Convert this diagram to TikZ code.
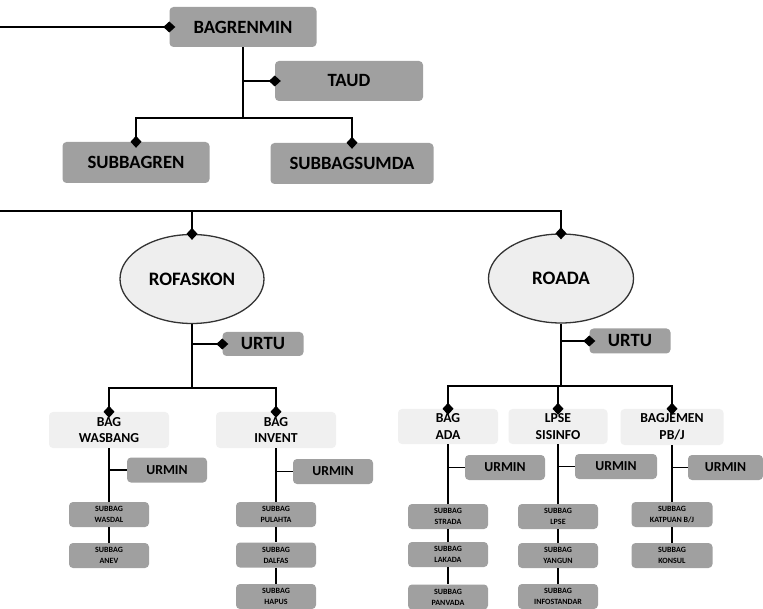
\documentclass[tikz,border=0pt]{standalone}
\usepackage{fontspec}
\setmainfont{Carlito}
\usetikzlibrary{arrows.meta,shapes.geometric}
\definecolor{dkgray}{HTML}{A0A0A0}
\definecolor{ltgray}{HTML}{F0F0F0}
\definecolor{ellfill}{HTML}{EEEEEE}
\begin{document}
\begin{tikzpicture}[x=1pt,y=-1pt,
 dkbox/.style={fill=dkgray, rounded corners=4pt, inner sep=0pt, align=center},
 ltbox/.style={fill=ltgray, rounded corners=4pt, inner sep=0pt, align=center},
 big/.style={font=\fontsize{18.7}{22}\selectfont\bfseries},
 ebig/.style={font=\fontsize{19}{22}\selectfont\bfseries},
 mid/.style={font=\fontsize{13.7}{16.5}\selectfont\bfseries},
 small/.style={font=\fontsize{8}{11}\selectfont\bfseries},
 ell/.style={ellipse, draw=black!80, line width=1.3pt, fill=ellfill, inner sep=0pt},
 conn/.style={line width=1.8pt},
 dmd/.style={conn, -{Diamond[length=12pt,width=11pt]}, shorten >=-6pt}]
\fill[white] (0,0) rectangle (763,609);
\useasboundingbox (0,0) rectangle (763,609);

% top group
\node[dkbox,big,minimum width=147pt,minimum height=40pt] (bag) at (243,27) {BAGRENMIN};
\node[dkbox,big,minimum width=148pt,minimum height=40pt] (taud) at (349,81) {TAUD};
\node[dkbox,big,minimum width=147pt,minimum height=41pt] (sren) at (136,162.5) {SUBBAGREN};
\node[dkbox,big,minimum width=163pt,minimum height=41pt] (ssumda) at (352,163.5) {SUBBAGSUMDA};

\coordinate (L0) at (0,27);
\coordinate (j1) at (243,118);
\draw[dmd] (L0) -- (bag.west);
\draw[conn] (bag.south) -- (j1);
\draw[dmd] (bag.south |- taud.west) -- (taud.west);
\draw[dmd] (j1) -| (sren.north);
\draw[dmd] (j1) -| (ssumda.north);

% ellipses
\node[ell,ebig,minimum width=144pt,minimum height=89pt] (rofas) at (192,279) {ROFASKON};
\node[ell,ebig,minimum width=145pt,minimum height=89pt] (roada) at (561,278.5) {ROADA};
\coordinate (L1) at (0,211);
\draw[dmd] (L1) -| (roada.north);
\draw[dmd] (rofas.north |- L1) -- (rofas.north);

% URTU
\node[dkbox,big,minimum width=81pt,minimum height=24pt] (urtu1) at (263,344) {URTU};
\node[dkbox,big,minimum width=81pt,minimum height=25pt] (urtu2) at (630,341) {URTU};
\draw[dmd] (rofas.south |- urtu1.west) -- (urtu1.west);
\draw[dmd] (roada.south |- urtu2.west) -- (urtu2.west);
\coordinate (j2) at (192,388);
\coordinate (j3) at (561,386);
\draw[conn] (rofas.south) -- (j2);
\draw[conn] (roada.south) -- (j3);

% BAG level
\node[ltbox,mid,minimum width=120pt,minimum height=36pt] (wasbang) at (109,430) {BAG\\WASBANG};
\node[ltbox,mid,minimum width=120pt,minimum height=36pt] (invent) at (276,430) {BAG\\INVENT};
\node[ltbox,mid,minimum width=100pt,minimum height=35pt] (ada) at (448,426.5) {BAG\\ADA};
\node[ltbox,mid,minimum width=99pt,minimum height=35pt] (lpse) at (558,426.5) {LPSE\\SISINFO};
\node[ltbox,mid,minimum width=103pt,minimum height=36pt] (jemen) at (672,427) {BAGJEMEN\\PB/J};
\draw[dmd] (j2) -| (wasbang.north);
\draw[dmd] (j2) -| (invent.north);
\draw[dmd] (j3) -| (ada.north);
\draw[dmd] (j3) -| (lpse.north);
\draw[dmd] (j3) -| (jemen.north);

% URMIN
\node[dkbox,mid,minimum width=80pt,minimum height=25pt] (um1) at (167,470) {URMIN};
\node[dkbox,mid,minimum width=80pt,minimum height=25pt] (um2) at (333,471.5) {URMIN};
\node[dkbox,mid,minimum width=80pt,minimum height=25pt] (um3) at (505,467.5) {URMIN};
\node[dkbox,mid,minimum width=82pt,minimum height=25pt] (um4) at (616,466.5) {URMIN};
\node[dkbox,mid,minimum width=75pt,minimum height=25pt] (um5) at (725.5,467.5) {URMIN};
\draw[conn] (wasbang.south |- um1.west) -- (um1.west);
\draw[conn] (invent.south |- um2.west) -- (um2.west);
\draw[conn] (ada.south |- um3.west) -- (um3.west);
\draw[conn] (lpse.south |- um4.west) -- (um4.west);
\draw[conn] (jemen.south |- um5.west) -- (um5.west);

% SUBBAG boxes
\node[dkbox,small,minimum width=80pt,minimum height=25pt] (wasdal) at (109,514.5) {SUBBAG\\WASDAL};
\node[dkbox,small,minimum width=80pt,minimum height=25pt] (anev) at (109,555.5) {SUBBAG\\ANEV};
\node[dkbox,small,minimum width=80pt,minimum height=25pt] (pulahta) at (276,514.5) {SUBBAG\\PULAHTA};
\node[dkbox,small,minimum width=80pt,minimum height=25pt] (dalfas) at (276,555) {SUBBAG\\DALFAS};
\node[dkbox,small,minimum width=80pt,minimum height=25pt] (hapus) at (276,596.5) {SUBBAG\\HAPUS};
\node[dkbox,small,minimum width=80pt,minimum height=25pt] (strada) at (448,516.5) {SUBBAG\\STRADA};
\node[dkbox,small,minimum width=80pt,minimum height=25pt] (lakada) at (448,554.5) {SUBBAG\\LAKADA};
\node[dkbox,small,minimum width=80pt,minimum height=25pt] (panvada) at (448,597) {SUBBAG\\PANVADA};
\node[dkbox,small,minimum width=80pt,minimum height=25pt] (slpse) at (558,516.5) {SUBBAG\\LPSE};
\node[dkbox,small,minimum width=80pt,minimum height=25pt] (yangun) at (558,555.5) {SUBBAG\\YANGUN};
\node[dkbox,small,minimum width=80pt,minimum height=25pt] (infost) at (558,596.5) {SUBBAG\\INFOSTANDAR};
\node[dkbox,small,minimum width=81pt,minimum height=25pt] (katpuan) at (672,514.5) {SUBBAG\\KATPUAN B/J};
\node[dkbox,small,minimum width=81pt,minimum height=25pt] (konsul) at (672,555.5) {SUBBAG\\KONSUL};

\draw[conn] (wasbang.south) -- (wasdal.north);
\draw[conn] (wasdal.south) -- (anev.north);
\draw[conn] (invent.south) -- (pulahta.north);
\draw[conn] (pulahta.south) -- (dalfas.north);
\draw[conn] (dalfas.south) -- (hapus.north);
\draw[conn] (ada.south) -- (strada.north);
\draw[conn] (strada.south) -- (lakada.north);
\draw[conn] (lakada.south) -- (panvada.north);
\draw[conn] (lpse.south) -- (slpse.north);
\draw[conn] (slpse.south) -- (yangun.north);
\draw[conn] (yangun.south) -- (infost.north);
\draw[conn] (jemen.south) -- (katpuan.north);
\draw[conn] (katpuan.south) -- (konsul.north);
\end{tikzpicture}
\end{document}
